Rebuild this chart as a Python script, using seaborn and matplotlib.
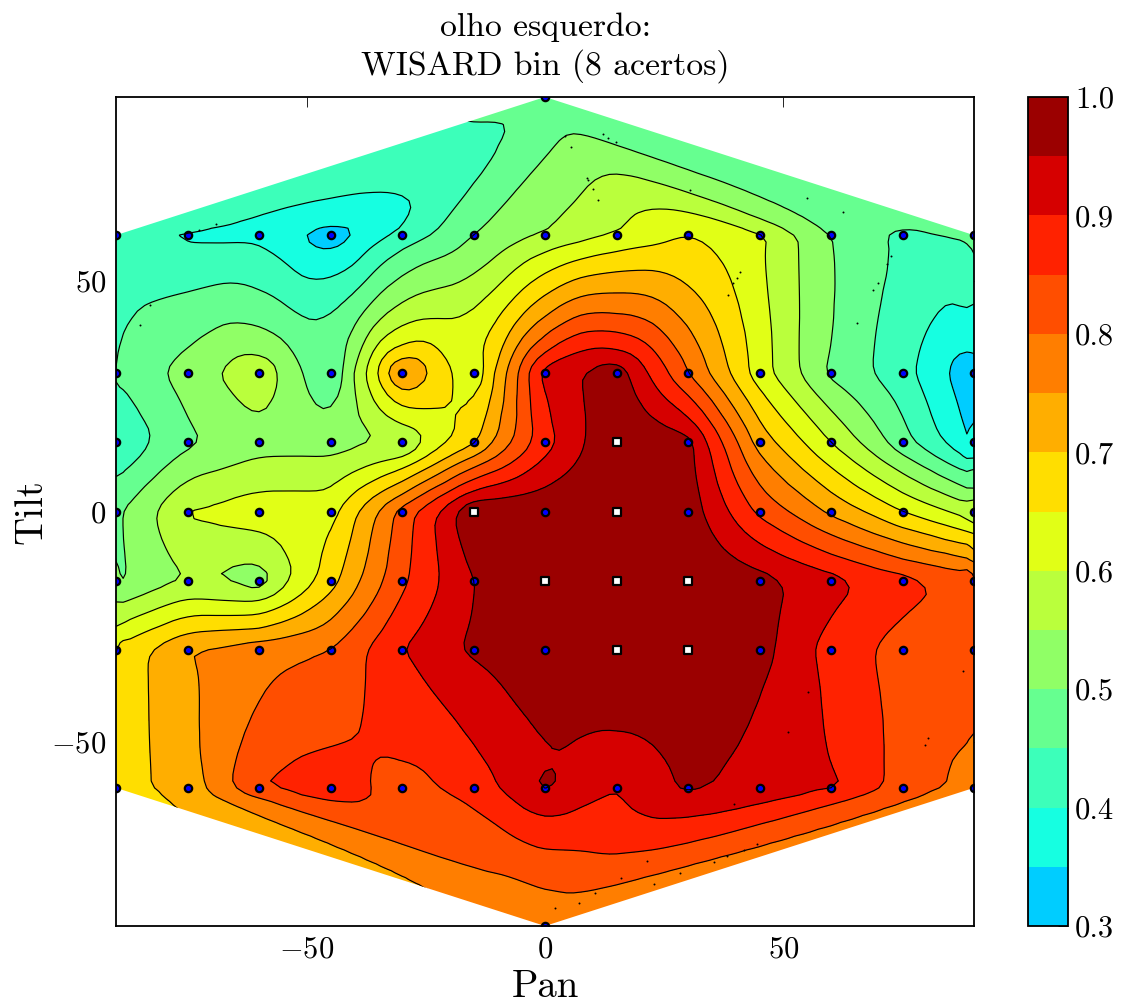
import numpy as np
import pandas as pd
import matplotlib
matplotlib.use('Agg')
import matplotlib.pyplot as plt
from matplotlib.patches import Polygon
import seaborn as sns

pans = [-90, -75, -60, -45, -30, -15, 0, 15, 30, 45, 60, 75, 90]
tilts = [60, 30, 15, 0, -15, -30, -60]

# acertos por tilt, de pan -90 a 90
tilt_60 = [0.43, 0.39, 0.385, 0.32, 0.41, 0.50, 0.55, 0.60, 0.65, 0.61, 0.50, 0.44, 0.46]
tilt_30 = [0.455, 0.52, 0.59, 0.445, 0.765, 0.605, 0.92, 0.98, 0.80, 0.625, 0.49, 0.42, 0.31]
tilt_15 = [0.40, 0.49, 0.53, 0.53, 0.54, 0.69, 0.88, 1.0, 0.97, 0.73, 0.60, 0.47, 0.34]
tilt_0 = [0.49, 0.605, 0.63, 0.63, 0.82, 1.0, 0.99, 1.0, 0.98, 0.84, 0.74, 0.65, 0.57]
tilt_m15 = [0.49, 0.55, 0.52, 0.68, 0.84, 0.95, 1.0, 1.0, 1.0, 0.97, 0.92, 0.87, 0.83]
tilt_m30 = [0.66, 0.75, 0.78, 0.80, 0.90, 0.96, 0.98, 1.0, 1.0, 0.97, 0.88, 0.83, 0.82]
tilt_m60 = [0.68, 0.72, 0.85, 0.875, 0.83, 0.87, 0.96, 0.90, 0.96, 0.93, 0.91, 0.83, 0.78]
tilt_p90 = 0.46
tilt_m90 = 0.76

# pontinhos soltos no grafico
stray_pan = [55, 62.5, 72.6, 71.7, 69.8, 68.9, 65.4, 41, 40.2, 39.5, 38.4, 8.8, 9, 10, 11.2, 4.2, 5.5,
             12.2, 13.2, 14.9, 30.4, -82.9, -85, -69, -72.6, 55.2, 51, 80.4, 79.7, 87.7, 39.6, 44.5,
             41.7, 38.2, 35.5, 21.4, 28.3, 22.9, 15.9, 10.5, 7.1, 2]
stray_tilt = [68, 65, 55.4, 53.8, 49.7, 48, 41, 52, 50.8, 49.7, 47.1, 72.5, 71.9, 70, 67.7, 81.6, 79.2,
              82, 81.2, 80.3, 69.9, 44.9, 40.6, 62.5, 61.2, -39.3, -47.8, -49.1, -50.6, -34.7, -63.6,
              -72.1, -73.4, -74.7, -76, -75.8, -78.6, -80.8, -79.5, -82.9, -85.1, -86]

hull_pan = [-90, 0, 90, 90, 0, -90]
hull_tilt = [60, 90, 60, -60, -90, -60]

levels = np.arange(0.3, 1.001, 0.05)
bar_ticks = [0.3, 0.4, 0.5, 0.6, 0.7, 0.8, 0.9, 1.0]

rows = [tilt_60, tilt_30, tilt_15, tilt_0, tilt_m15, tilt_m30, tilt_m60]
records = [(0, 90, tilt_p90), (0, -90, tilt_m90)]
for t, row in zip(tilts, rows):
    for p, v in zip(pans, row):
        records.append((p, t, v))
df = pd.DataFrame(records, columns=['pan', 'tilt', 'score'])


def raster(lim, step):
    r = np.arange(-lim, lim + step, step, dtype=np.float32)
    xx, yy = np.meshgrid(r, r)
    return xx.ravel(), yy.ravel()


def natural_neighbor(px, py, pz, xi, yi):
    # sibson discreto: malha fina perto dos dados, grossa longe (celulas do casco sao abertas)
    fx, fy = raster(105, 0.6)
    cx, cy = raster(420, 3.0)
    far = (np.abs(cx) > 105) | (np.abs(cy) > 105)
    rx = np.concatenate([fx, cx[far]])
    ry = np.concatenate([fy, cy[far]])
    w = np.concatenate([np.full(fx.size, 0.36, dtype=np.float32),
                        np.full(far.sum(), 9.0, dtype=np.float32)])
    near = np.empty(rx.size, dtype=np.float32)
    val = np.empty(rx.size, dtype=np.float32)
    for k in range(0, rx.size, 20000):
        d2 = (rx[k:k + 20000, None] - px) ** 2 + (ry[k:k + 20000, None] - py) ** 2
        near[k:k + 20000] = d2.min(axis=1)
        val[k:k + 20000] = pz[d2.argmin(axis=1)]
    wv = w * val
    z = np.full((len(yi), len(xi)), np.nan)
    for j, y in enumerate(yi):
        dy2 = (ry - y) ** 2
        for i, x in enumerate(xi):
            # fora do hexagono nao precisa
            if abs(y) > 93 - abs(x) / 3 + 3:
                continue
            mask = (rx - x) ** 2 + dy2 < near
            z[j, i] = wv[mask].sum() / w[mask].sum()
    return z


xi = np.arange(-93, 93.1, 1.5)
yi = np.arange(-93, 93.1, 1.5)
zi = natural_neighbor(df['pan'].values.astype(np.float32), df['tilt'].values.astype(np.float32),
                      df['score'].values.astype(np.float32), xi, yi)
# tira o serrilhado da malha
kernel = [0.25, 0.5, 0.25]
zi = np.apply_along_axis(lambda c: np.convolve(c, kernel, mode='same'), 0, zi)
zi = np.apply_along_axis(lambda c: np.convolve(c, kernel, mode='same'), 1, zi)
zi = np.clip(zi, 0.301, 0.999)

sns.set_style('white')
plt.rcParams['font.family'] = ['cmr10']
plt.rcParams['mathtext.fontset'] = 'cm'
plt.rcParams['axes.formatter.use_mathtext'] = True
plt.rcParams['axes.unicode_minus'] = True
plt.rcParams['text.color'] = 'k'
plt.rcParams['axes.labelcolor'] = 'k'

fig = plt.figure(figsize=(11.21, 10.08), dpi=100)
ax = fig.add_axes([116 / 1121, 82 / 1008, 858 / 1121, 829 / 1008])
cax = fig.add_axes([1028 / 1121, 82 / 1008, 40 / 1121, 829 / 1008])

cf = ax.contourf(xi, yi, zi, levels=levels, cmap='jet', vmin=0, vmax=1)
cl = ax.contour(xi, yi, zi, levels=levels[1:-1], colors='k', linewidths=0.85)
hull = Polygon(np.column_stack([hull_pan, hull_tilt]), closed=True, facecolor='none',
               edgecolor='none', transform=ax.transData)
ax.add_patch(hull)
cf.set_clip_path(hull)
cl.set_clip_path(hull)

sns.scatterplot(x=stray_pan, y=stray_tilt, ax=ax, color='k', s=2, linewidth=0, legend=False)
hits = df[df['score'] >= 1.0]
rest = df[df['score'] < 1.0]
sns.scatterplot(data=rest, x='pan', y='tilt', ax=ax, color='#0000ff', marker='o', s=28,
                edgecolor='k', linewidth=1.6, legend=False)
sns.scatterplot(data=hits, x='pan', y='tilt', ax=ax, color='white', marker='s', s=30,
                edgecolor='k', linewidth=1.6, legend=False)

ax.set_xlim(-90, 90)
ax.set_ylim(-90, 90)
ax.set_xticks([-50, 0, 50])
ax.set_yticks([-50, 0, 50])
ax.tick_params(direction='in', length=7, width=0.6, top=True, right=True, labelsize=22, pad=7, colors='k')
ax.set_xlabel('Pan', fontsize=28, labelpad=4)
ax.set_ylabel('Tilt', fontsize=28, labelpad=1)
ax.set_title('olho esquerdo:\nWISARD bin (8 acertos)', fontsize=24.3, pad=16, linespacing=1.3)
for s in ax.spines.values():
    s.set_visible(True)
    s.set_linewidth(1.3)
    s.set_color('k')

cb = fig.colorbar(cf, cax=cax, ticks=bar_ticks)
cb.ax.set_yticklabels(['%.1f' % t for t in bar_ticks])
cb.ax.tick_params(direction='in', length=7, width=0.6, labelsize=22, pad=5, right=True, colors='k')
cb.outline.set_linewidth(1.3)
cb.outline.set_edgecolor('k')

fig.savefig('out.png', dpi=100)
